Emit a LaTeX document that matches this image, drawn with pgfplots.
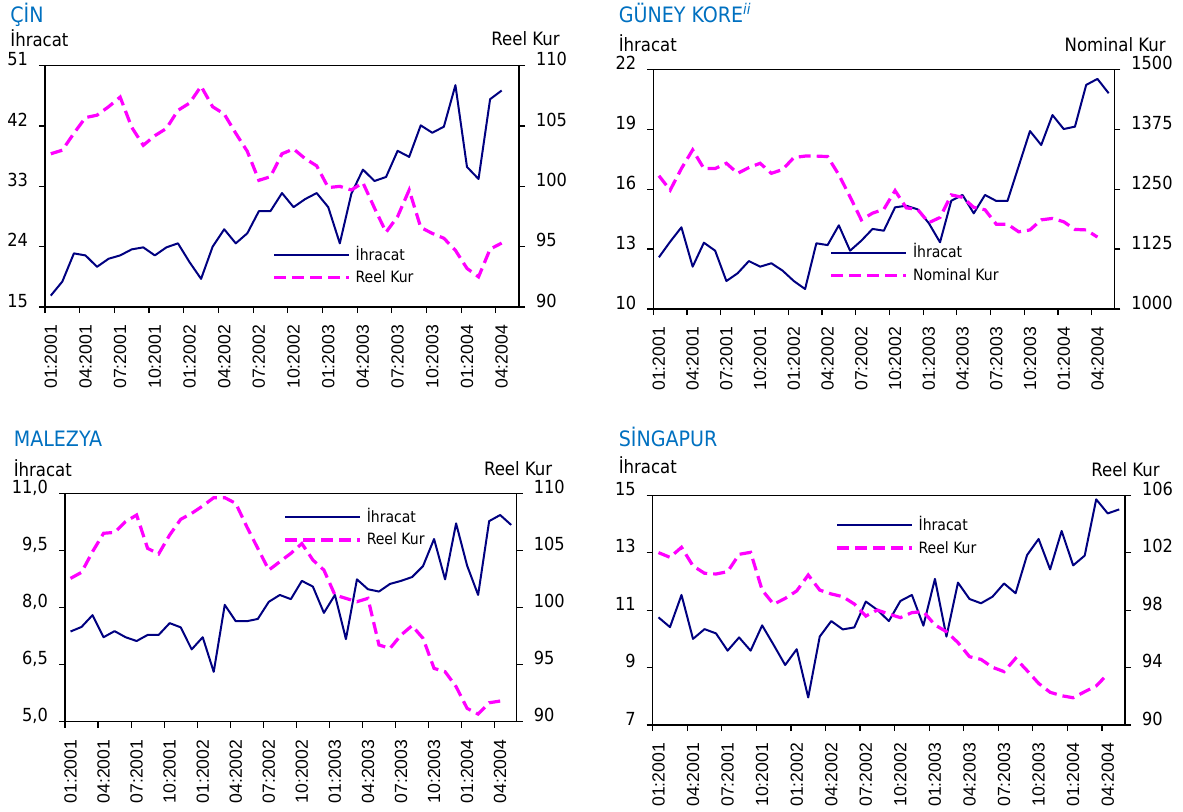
\documentclass[border=0pt]{standalone}
\usepackage{pgfplots}
\pgfplotsset{compat=1.18}
\usepackage{pgfplotstable}
\usepackage{fontspec}
\setmainfont{DejaVu Sans Condensed}
\newfontfamily\arialf{Liberation Sans}
\newcommand\fs[1]{\fontsize{#1}{#1}\selectfont}

\definecolor{navyline}{RGB}{0,0,128}
\definecolor{magline}{RGB}{255,0,255}
\definecolor{titleblue}{RGB}{0,112,192}

% one column per series, months 01:2001 ... (index 0, 1, 2, ...)
\pgfplotstableread[row sep=\\]{v\\16.7\\18.8\\23.0\\22.7\\21.0\\22.2\\22.7\\23.6\\23.9\\22.7\\23.9\\24.5\\21.7\\19.2\\24.0\\26.6\\24.5\\26.0\\29.3\\29.3\\32.0\\29.9\\31.1\\32.0\\29.9\\24.5\\31.9\\35.5\\33.8\\34.4\\38.3\\37.4\\42.1\\41.0\\41.9\\48.1\\35.9\\34.1\\46.0\\47.3\\}\cinEx
\pgfplotstableread[row sep=\\]{v\\102.7\\103.0\\104.4\\105.7\\105.9\\106.6\\107.4\\104.9\\103.4\\104.2\\104.8\\106.3\\106.9\\108.3\\106.6\\106.0\\104.4\\102.9\\100.5\\100.8\\102.7\\103.1\\102.3\\101.7\\99.9\\100.0\\99.7\\100.3\\98.2\\96.2\\97.5\\99.7\\96.6\\96.1\\95.7\\94.7\\93.2\\92.5\\94.8\\95.3\\}\cinKur

\pgfplotstableread[row sep=\\]{v\\12.59\\13.37\\14.09\\12.12\\13.32\\12.92\\11.40\\11.79\\12.40\\12.12\\12.29\\11.92\\11.40\\11.00\\13.29\\13.20\\14.19\\12.92\\13.42\\14.01\\13.92\\15.09\\15.17\\14.99\\14.30\\13.34\\15.42\\15.71\\14.79\\15.71\\15.41\\15.41\\17.16\\18.91\\18.21\\19.71\\19.01\\19.13\\21.22\\21.52\\20.80\\}\korEx
\pgfplotstableread[row sep=\\]{v\\1278\\1248\\1293\\1332\\1293\\1293\\1304\\1283\\1295\\1304\\1283\\1291\\1316\\1319\\1319\\1318\\1280\\1234\\1186\\1200\\1208\\1247\\1211\\1208\\1180\\1191\\1238\\1233\\1212\\1207\\1177\\1177\\1161\\1165\\1186\\1189\\1182\\1166\\1165\\1150\\}\korKur

\pgfplotstableread[row sep=\\]{v\\7.37\\7.49\\7.80\\7.22\\7.38\\7.22\\7.12\\7.28\\7.28\\7.59\\7.48\\6.90\\7.22\\6.31\\8.07\\7.64\\7.64\\7.70\\8.15\\8.33\\8.22\\8.70\\8.55\\7.86\\8.33\\7.17\\8.74\\8.48\\8.42\\8.62\\8.70\\8.80\\9.09\\9.80\\8.74\\10.21\\9.10\\8.33\\10.27\\10.43\\10.17\\}\malEx
\pgfplotstableread[row sep=\\]{v\\102.55\\103.08\\104.89\\106.50\\106.58\\107.52\\108.10\\105.18\\104.69\\106.35\\107.72\\108.25\\108.89\\109.62\\109.62\\109.12\\107.08\\105.18\\103.28\\104.01\\104.74\\105.6\\104.16\\103.28\\101.10\\100.80\\100.51\\100.80\\96.72\\96.42\\97.59\\98.41\\97.30\\94.67\\94.38\\93.07\\91.17\\90.67\\91.66\\91.81\\}\malKur

\pgfplotstableread[row sep=\\]{v\\10.75\\10.41\\11.53\\10.00\\10.34\\10.19\\9.59\\10.05\\9.59\\10.47\\9.79\\9.09\\9.64\\7.96\\10.08\\10.62\\10.33\\10.40\\11.30\\11.01\\10.62\\11.32\\11.53\\10.46\\12.09\\10.08\\11.96\\11.39\\11.24\\11.47\\11.93\\11.59\\12.92\\13.48\\12.42\\13.76\\12.56\\12.90\\14.86\\14.37\\14.51\\}\sinEx
\pgfplotstableread[row sep=\\]{v\\102.01\\101.68\\102.38\\101.08\\100.57\\100.52\\100.68\\101.89\\102.03\\99.40\\98.41\\98.82\\99.34\\100.45\\99.40\\99.13\\98.94\\98.43\\97.59\\98.01\\97.73\\97.48\\97.83\\97.90\\96.97\\96.50\\95.74\\94.76\\94.57\\94.02\\93.72\\94.64\\93.79\\92.90\\92.28\\92.04\\91.90\\92.32\\92.72\\93.55\\}\sinKur

\pgfplotsset{
  exline/.style={color=navyline, line width=1pt, line join=round, mark=none},
  kurline/.style={color=magline, line width=1.6pt, dash pattern=on 6pt off 3pt, mark=none},
  panel/.style={
    scale only axis, xmin=-0.5, xmax=40.5,
    tick align=outside, major tick length=3pt, minor tick length=3pt,
    tick style={black, line width=0.6pt},
    axis line style={line width=0.7pt},
    /pgf/number format/assume math mode=true,
    /pgf/number format/1000 sep={},
    yticklabel style={font=\fs{9}},
  },
  leftax/.style={panel,
    xtick={0,3,...,39},
    xticklabels={01:2001,04:2001,07:2001,10:2001,01:2002,04:2002,07:2002,10:2002,01:2003,04:2003,07:2003,10:2003,01:2004,04:2004},
    minor xtick={-0.5,2.5,...,38.5},
    major x tick style={draw=none},
    xtick pos=left, ytick pos=left,
    xticklabel style={rotate=90, anchor=east, font=\arialf\fs{8.8}},
    xticklabel shift=2.5pt,
    yticklabel style={anchor=base east, xshift=-2pt},
  },
  rightax/.style={panel, axis x line=none, axis y line*=right,
    yticklabel style={anchor=base west, xshift=2pt},
    legend style={draw=none, fill=none, anchor=north west, font=\fs{7.8},
      inner sep=0pt, row sep=4.4pt, column sep=2.5pt,
      nodes={inner sep=0pt, text height=6pt, text depth=1pt}},
    legend cell align=left,
    legend image code/.code={\draw[##1] (0pt,0pt) -- (37.5pt,0pt);},
  },
}
\tikzset{
  lab/.style={inner sep=0pt, font=\fs{9.2}},
  ttl/.style={inner sep=0pt, anchor=base west, text=titleblue, font=\fs{10.6}},
}

\begin{document}
\begin{tikzpicture}
\useasboundingbox (0,0) rectangle (591.5pt,-405.5pt);

% ---------------- CIN
\begin{axis}[leftax, at={(22.5pt,-153.5pt)}, anchor=south west,
  width=237pt, height=120.65pt, ymin=15, ymax=51, ytick={15,24,33,42,51}]
  \addplot[exline] table[x expr=\coordindex, y=v] {\cinEx};
\end{axis}
\begin{axis}[rightax, at={(22.5pt,-153.5pt)}, anchor=south west,
  width=237pt, height=120.65pt, ymin=90, ymax=110, ytick={90,95,100,105,110},
  legend style={at={(0.479,0.246)}}]
  \addlegendimage{exline}\addlegendentry{İhracat}
  \addplot[kurline] table[x expr=\coordindex, y=v] {\cinKur};
  \addlegendentry{Reel Kur}
\end{axis}
\node[ttl] at (5pt,-11.35pt) {ÇİN};
\node[lab, anchor=base west] at (5pt,-23.3pt) {İhracat};
\node[lab, anchor=base east] at (280pt,-22.5pt) {Reel Kur};

% ---------------- GUNEY KORE
\begin{axis}[leftax, at={(326.65pt,-154.5pt)}, anchor=south west,
  width=230.5pt, height=119.85pt, ymin=10, ymax=22, ytick={10,13,16,19,22}]
  \addplot[exline] table[x expr=\coordindex, y=v] {\korEx};
\end{axis}
\begin{axis}[rightax, at={(326.65pt,-154.5pt)}, anchor=south west,
  width=230.5pt, height=119.85pt, ymin=1000, ymax=1500,
  ytick={1000,1125,1250,1375,1500},
  legend style={at={(0.382,0.266)}}]
  \addlegendimage{exline}\addlegendentry{İhracat}
  \addplot[kurline] table[x expr=\coordindex, y=v] {\korKur};
  \addlegendentry{Nominal Kur}
\end{axis}
\node[ttl] at (309.2pt,-11.35pt) {GÜNEY KORE\textsuperscript{\itshape ii}};
\node[lab, anchor=base west] at (309.2pt,-25.8pt) {İhracat};
\node[lab, anchor=base east] at (583pt,-25.8pt) {Nominal Kur};

% ---------------- MALEZYA
\begin{axis}[leftax, at={(32.5pt,-360.85pt)}, anchor=south west,
  width=225.85pt, height=114.2pt, ymin=5, ymax=11, ytick={5,6.5,8,9.5,11},
  yticklabels={{5,0},{6,5},{8,0},{9,5},{11,0}}]
  \addplot[exline] table[x expr=\coordindex, y=v] {\malEx};
\end{axis}
\begin{axis}[rightax, at={(32.5pt,-360.85pt)}, anchor=south west,
  width=225.85pt, height=114.2pt, ymin=90, ymax=110, ytick={90,95,100,105,110},
  legend style={at={(0.483,0.928)}}]
  \addlegendimage{exline}\addlegendentry{İhracat}
  \addplot[kurline] table[x expr=\coordindex, y=v] {\malKur};
  \addlegendentry{Reel Kur}
\end{axis}
\node[ttl] at (6.7pt,-223.3pt) {MALEZYA};
\node[lab, anchor=base west] at (6.7pt,-238.3pt) {İhracat};
\node[lab, anchor=base east] at (276.3pt,-237.5pt) {Reel Kur};

% ---------------- SINGAPUR
\begin{axis}[leftax, at={(326.35pt,-362.5pt)}, anchor=south west,
  width=236.15pt, height=114.85pt, ymin=7, ymax=15, ytick={7,9,11,13,15}]
  \addplot[exline] table[x expr=\coordindex, y=v] {\sinEx};
\end{axis}
\begin{axis}[rightax, at={(326.35pt,-362.5pt)}, anchor=south west,
  width=236.15pt, height=114.85pt, ymin=90, ymax=106, ytick={90,94,98,102,106},
  legend style={at={(0.386,0.902)}}]
  \addlegendimage{exline}\addlegendentry{İhracat}
  \addplot[kurline] table[x expr=\coordindex, y=v] {\sinKur};
  \addlegendentry{Reel Kur}
\end{axis}
\node[ttl] at (309.2pt,-223.3pt) {SİNGAPUR};
\node[lab, anchor=base west] at (309.2pt,-236.7pt) {İhracat};
\node[lab, anchor=base east] at (580pt,-238.3pt) {Reel Kur};
\end{tikzpicture}
\end{document}
